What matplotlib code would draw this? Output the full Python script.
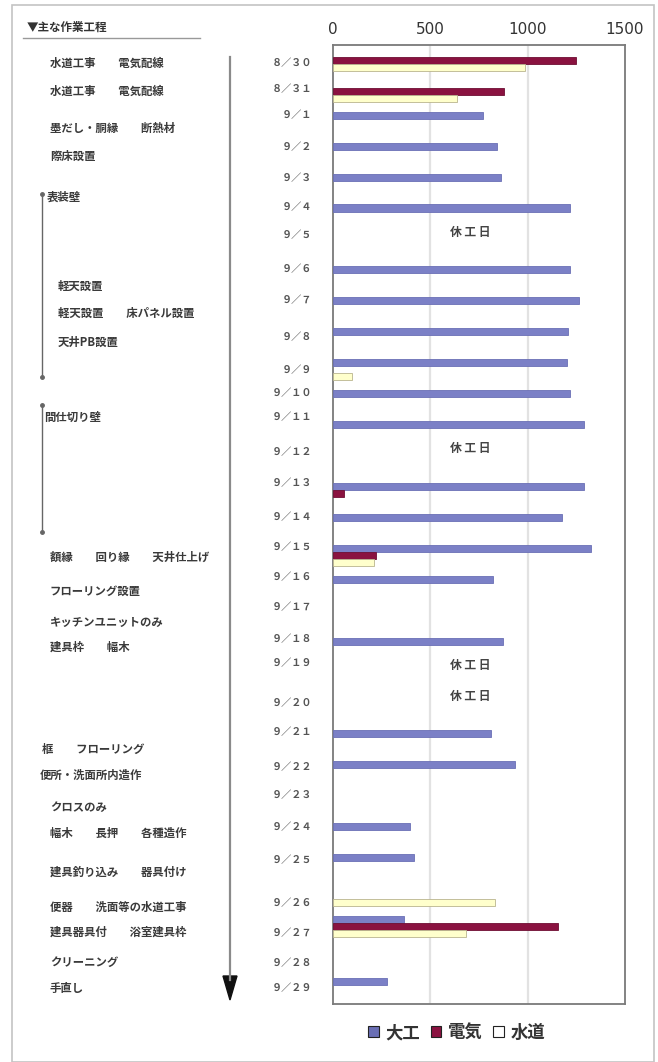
import matplotlib.pyplot as plt
from matplotlib.lines import Line2D
from matplotlib.patches import Polygon, Rectangle, Patch
import numpy as np

plt.rcParams['font.family'] = ['Noto Sans CJK JP', 'DejaVu Sans']

# data
dates = ['８／３０', '８／３１'] + ['９／' + ''.join(chr(0xFF10 + int(c)) for c in str(d)) for d in range(1, 30)]
daiku = [0, 0, 770, 842, 863, 1217, 0, 1217, 1264, 1207, 1200, 1217, 1289, 0,
         1289, 1176, 1325, 822, 0, 873, 0, 0, 811, 935, 0, 395, 416, 0, 365, 0, 277]
denki = [1250, 880, 0, 0, 0, 0, 0, 0, 0, 0, 0, 0, 0, 0,
         57, 0, 221, 0, 0, 0, 0, 0, 0, 0, 0, 0, 0, 0, 1156, 0, 0]
suido = [986, 637, 0, 0, 0, 0, 0, 0, 0, 0, 98, 0, 0, 0,
         0, 0, 211, 0, 0, 0, 0, 0, 0, 0, 0, 0, 0, 832, 683, 0, 0]
series_names = ['大工', '電気', '水道']
holidays = ['９／５', '９／１２', '９／１９', '９／２０']
xticks = [0, 500, 1000, 1500]

tasks = ['水道工事　　電気配線', '水道工事　　電気配線', '墨だし・胴縁　　断熱材', '際床設置',
         '表装壁', '軽天設置', '軽天設置　　床パネル設置', '天井PB設置', '間仕切り壁',
         '額縁　　回り縁　　天井仕上げ', 'フローリング設置', 'キッチンユニットのみ', '建具枠　　幅木',
         '框　　フローリング', '便所・洗面所内造作', 'クロスのみ', '幅木　　長押　　各種造作',
         '建具釣り込み　　器具付け', '便器　　洗面等の水道工事', '建具器具付　　浴室建具枠',
         'クリーニング', '手直し']
# layout (pixel positions of the free text)
task_pos = [(50, 63), (50, 91), (50, 128), (50, 156), (47, 197), (58, 286), (58, 313),
            (58, 342), (44, 417), (50, 557), (50, 591), (50, 622), (50, 647), (42, 749),
            (40, 775), (50, 807), (50, 833), (50, 872), (50, 907), (50, 932), (50, 962),
            (50, 988)]
date_y = [63, 89, 115, 147, 178, 207, 235, 269, 300, 337, 370, 393, 417, 452, 483, 517,
          547, 577, 607, 639, 663, 703, 732, 767, 795, 827, 860, 903, 933, 963, 988]

W, H = 658, 1062
fig = plt.figure(figsize=(W / 100, H / 100), dpi=100)


def px(x, y):
    return x / W, 1 - y / H


ax = fig.add_axes([333 / W, 1 - 1004 / H, 292 / W, 959 / H])

colors = ['#7b80c6', '#8a1240', '#ffffcc']
edges = ['#6a6fb5', '#6e0e33', '#b9b48e']
h = 0.23
offs = [-h, 0, h]
for vals, c, e, o in zip([daiku, denki, suido], colors, edges, offs):
    idx = [i for i, v in enumerate(vals) if v > 0]
    ax.barh(np.array(idx) + o, [vals[i] for i in idx], height=h, color=c,
            edgecolor=e, linewidth=0.6, zorder=3)

ax.set_xlim(0, 1500)
ax.set_ylim(len(dates) - 0.5, -0.5)
ax.set_xticks(xticks)
ax.set_xticklabels([str(t) for t in xticks], family='DejaVu Sans', fontsize=11, color='#333')
ax.xaxis.tick_top()
ax.tick_params(axis='x', length=0, pad=6)
ax.set_yticks([])
for x in [500, 1000]:
    ax.axvline(x, color='#e2e2e2', lw=1.6, zorder=1)
for s in ax.spines.values():
    s.set_color('#7a7a7a')
    s.set_linewidth(1.3)

for d in holidays:
    i = dates.index(d)
    ax.text(704, i - 0.45, '休 工 日', ha='center', va='center', fontsize=8.5,
            fontweight='bold', color='#444')

# date labels
for d, y in zip(dates, date_y):
    fig.text(*px(312, y), d, ha='right', va='center', fontsize=7.3, color='#555',
             fontweight='bold')

# task labels
for t, (x, y) in zip(tasks, task_pos):
    fig.text(*px(x, y), t, ha='left', va='center', fontsize=8.2, color='#3a3a3a',
             fontweight='bold')

fig.text(*px(27, 27), '▼主な作業工程', ha='left', va='center', fontsize=8.3,
         color='#333', fontweight='bold')
fig.add_artist(Line2D([23 / W, 200 / W], [1 - 38 / H] * 2, color='#999', lw=1))

# brackets on the left
for y0, y1 in [(194, 377), (405, 532)]:
    fig.add_artist(Line2D([42 / W] * 2, [1 - y0 / H, 1 - y1 / H], color='#666', lw=1,
                          marker='o', markersize=2.5, markevery=[0, 1]))

# time arrow
fig.add_artist(Line2D([230 / W] * 2, [1 - 57 / H, 1 - 980 / H], color='#8a8a8a', lw=1.6))
fig.add_artist(Polygon([px(223, 976), px(237, 976), px(230, 1000)], closed=True,
                       transform=fig.transFigure, color='#111'))

# outer border
fig.add_artist(Rectangle((12 / W, 0), 642 / W, 1 - 5 / H, transform=fig.transFigure,
                         fill=False, edgecolor='#c4c4c4', lw=1.2))

handles = [Patch(facecolor=c, edgecolor='#222', lw=0.8) for c in ['#6a6fb5', '#8a1240', '#ffffff']]
fig.legend(handles, series_names, loc='center', bbox_to_anchor=px(457, 1033), ncol=3,
           frameon=False, handlelength=0.6, handleheight=0.6, handletextpad=0.4,
           columnspacing=0.6, prop={'size': 12.5, 'weight': 'bold'}, labelcolor='#333')

fig.savefig('out.png', dpi=100)
